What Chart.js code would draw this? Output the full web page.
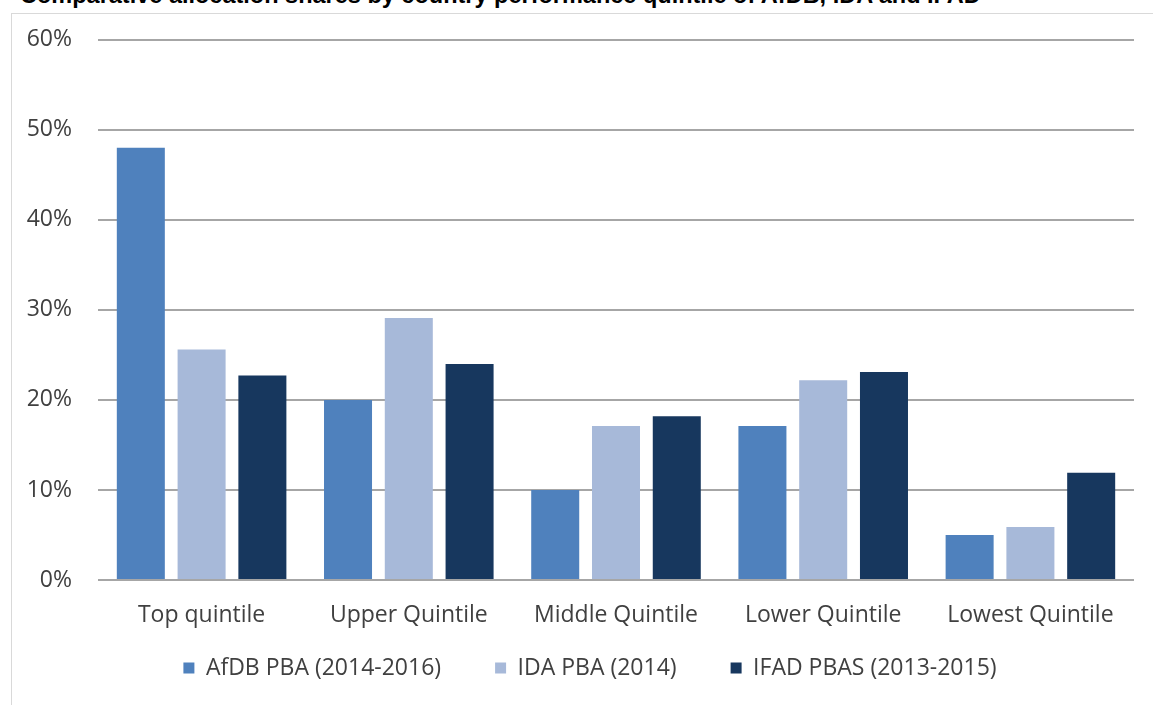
<!DOCTYPE html>
<html>
<head>
<meta charset="utf-8">
<script src="https://cdn.jsdelivr.net/npm/chart.js@4"></script>
<style>
  html, body { margin: 0; padding: 0; background: #fff; overflow: hidden; }
  body { width: 1153px; height: 705px; position: relative; }
  #title {
    position: absolute; left: 20px; top: -16px; white-space: nowrap;
    font: bold 23.5px "Liberation Sans", Arial, sans-serif; line-height: 23px; color: #000;
  }
  #frame {
    position: absolute; left: 11px; top: 13px; width: 1160px; height: 720px;
    border: 1px solid #d9d9d9; box-sizing: border-box;
  }
  #wrap { position: absolute; left: 12px; top: 0; width: 1141px; height: 705px; }
</style>
</head>
<body>
<div id="title">Comparative allocation shares by country performance quintile of AfDB, IDA and IFAD</div>
<div id="frame"></div>
<div id="wrap"><canvas id="chart"></canvas></div>
<script>
const quintiles = ["Top quintile", "Upper Quintile", "Middle Quintile", "Lower Quintile", "Lowest Quintile"];
const afdb = [48, 20, 10, 17.1, 5];
const ida = [25.6, 29.1, 17.1, 22.2, 5.9];
const ifad = [22.7, 24, 18.2, 23.1, 11.9];
const seriesNames = ["AfDB PBA (2014-2016)", "IDA PBA (2014)", "IFAD PBAS (2013-2015)"];
const yTicks = [0, 10, 20, 30, 40, 50, 60];

const font = { family: "'Open Sans', sans-serif", size: 23 };
const textColor = '#404040';

// legend items need wide gaps, but the big padding also pushes the row down; lift it back up
const liftLegend = {
  id: 'liftLegend',
  afterLayout(chart) {
    chart.legend.top -= 49;
    chart.legend.bottom -= 49;
    chart.legend.left += 17;
    chart.legend.right += 17;
  }
};

let ctx = document.getElementById('chart').getContext('2d');
let chart = new Chart(ctx, {
  type: 'bar',
  data: {
    labels: quintiles,
    datasets: [
      { label: seriesNames[0], data: afdb, backgroundColor: '#4f81bd' },
      { label: seriesNames[1], data: ida, backgroundColor: '#a7b9d9' },
      { label: seriesNames[2], data: ifad, backgroundColor: '#17375e' }
    ]
  },
  plugins: [liftLegend],
  options: {
    responsive: true,
    maintainAspectRatio: false,
    animation: false,
    datasets: { bar: { categoryPercentage: 0.88, barPercentage: 0.79 } },
    layout: { padding: { left: 0, right: 19, top: 0, bottom: -33.6 } },
    plugins: {
      legend: {
        position: 'bottom',
        labels: { font: font, color: textColor, boxWidth: 11, boxHeight: 11, padding: 54 }
      },
      tooltip: { enabled: false }
    },
    scales: {
      x: {
        grid: { display: false, drawTicks: false },
        border: { display: false },
        ticks: { font: font, color: textColor, padding: 22 }
      },
      y: {
        min: 0,
        max: 60,
        afterBuildTicks: (axis) => { axis.ticks = yTicks.map(v => ({ value: v })); },
        afterFit: (axis) => { axis.width = 86; },
        grid: { color: '#a6a6a6', lineWidth: 2, drawTicks: false },
        border: { display: false },
        ticks: { font: font, color: textColor, padding: 26, callback: (v) => v + '%' }
      }
    }
  }
});
</script>
</body>
</html>
